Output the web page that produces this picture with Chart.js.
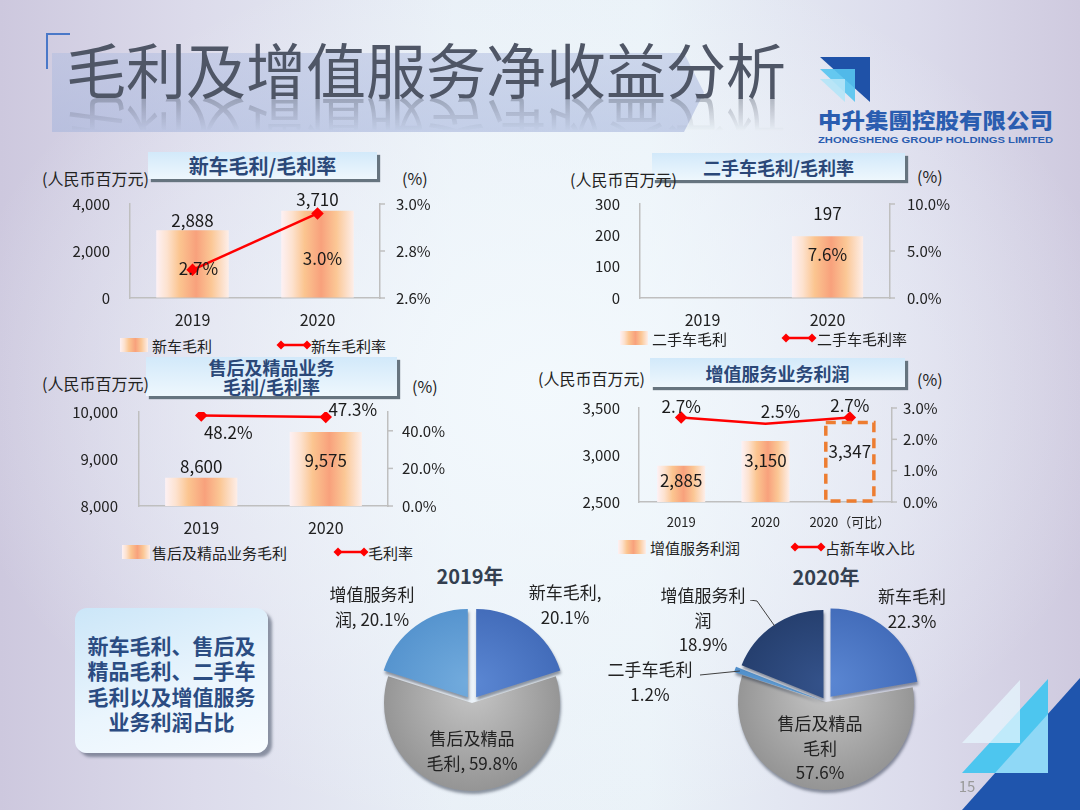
<!DOCTYPE html>
<html lang="zh-CN">
<head>
<meta charset="utf-8">
<title>毛利及增值服务净收益分析</title>
<script src="https://cdn.jsdelivr.net/npm/chart.js@4.4.1/dist/chart.umd.min.js"></script>
<style>
  body { margin: 0; }
  #slide {
    position: relative; width: 1080px; height: 810px; overflow: hidden;
    font-family: "Noto Sans CJK SC", "Noto Sans", sans-serif; color: #222;
    background:
      radial-gradient(ellipse 55% 55% at 50% 48%, rgba(243,249,253,0.95), rgba(243,249,253,0) 100%),
      linear-gradient(90deg, #cdc8de 0%, #dcdbeb 18%, #e9f0f7 42%, #eaf2f8 60%, #dcdcec 84%, #cfcadf 100%);
  }
  .abs { position: absolute; white-space: nowrap; }
  .cc { transform: translate(-50%, -50%); text-align: center; }
  .lc { transform: translateY(-50%); }
  .wrap { position: absolute; }
  .band {
    position: absolute; left: 52px; top: 53px; width: 652px; height: 79px;
    background: linear-gradient(180deg, rgba(178,190,224,0.55), rgba(168,182,220,0.6));
    clip-path: polygon(0 0, 632px 0, 652px 50%, 632px 100%, 0 100%);
  }
  .title { position: absolute; left: 66px; top: 38px; font-size: 60px; line-height: 60px; color: #4f5666; white-space: nowrap; }
  .refl {
    top: 98px; transform: scaleY(-1); opacity: 0.9;
    -webkit-mask-image: linear-gradient(to top, rgba(0,0,0,0.4) 0%, rgba(0,0,0,0) 55%);
    mask-image: linear-gradient(to top, rgba(0,0,0,0.4) 0%, rgba(0,0,0,0) 55%);
  }
  .corner { position: absolute; left: 46px; top: 33px; width: 22px; height: 34px; border-left: 2px solid #4a78c8; border-top: 2px solid #4a78c8; }
  .hb {
    position: absolute; display: flex; align-items: center; justify-content: center; text-align: center;
    background: linear-gradient(180deg, #d2e9fa, #eef7fd);
    box-shadow: 3px 3px 1px #66747f;
    font-weight: 700; color: #2b4878;
  }
  .unit { font-size: 16px; }
  .sw { position: absolute; width: 28px; height: 14px;
    background: linear-gradient(90deg, #fdf1f4 0%, #fde2cf 15%, #fbc590 32%, #f8a17c 55%, #fbc795 76%, #fdeee9 100%); }
  .lg { font-size: 15px; }
  .pl { font-size: 17px; line-height: 24.5px; }
  .pt { font-size: 20px; font-weight: 700; color: #333f50; }
  .note {
    position: absolute; left: 75px; top: 608px; width: 193px; height: 145px; border-radius: 12px;
    background: linear-gradient(160deg, #cbe6f8 0%, #eaf5fd 55%, #f8fcff 100%);
    box-shadow: 4px 4px 3px rgba(90,100,120,0.65);
    display: flex; align-items: center; justify-content: center; text-align: center;
    font-size: 21px; line-height: 25.5px; font-weight: 700; color: #2b4c82; padding-top: 6px; box-sizing: border-box;
  }
</style>
</head>
<body>
<div id="slide">
  <div class="band"></div>
  <div class="corner"></div>
  <div class="title">毛利及增值服务净收益分析</div>
  <div class="title refl">毛利及增值服务净收益分析</div>

  <svg class="abs" style="left:818px;top:55px" width="56" height="50">
    <polygon points="2,2 52,2 52,47" fill="#1f52a8"/>
    <polygon points="2,14 37,14 37,47" fill="#56c4f0" opacity="0.9"/>
    <polygon points="2,24 27,24 27,47" fill="#b4e4f7" opacity="0.9"/>
  </svg>
  <svg class="abs" style="left:818px;top:108px" width="240" height="40">
    <text x="0" y="20" textLength="235" lengthAdjust="spacingAndGlyphs" font-family="Noto Sans CJK SC" font-weight="900" font-size="21" fill="#2a5db0">中升集團控股有限公司</text>
    <text x="0" y="34.5" textLength="235" lengthAdjust="spacingAndGlyphs" font-family="Liberation Sans" font-weight="700" font-size="9.5" fill="#2a5db0">ZHONGSHENG GROUP HOLDINGS LIMITED</text>
  </svg>

  <!-- chart headers -->
  <div class="hb" style="left:148px;top:152px;width:229px;height:27px;font-size:20px">新车毛利/毛利率</div>
  <div class="hb" style="left:652px;top:153px;width:253px;height:27px;font-size:18px">二手车毛利/毛利率</div>
  <div class="hb" style="left:146px;top:357px;width:251px;height:39px;font-size:18px;line-height:19px">售后及精品业务<br>毛利/毛利率</div>
  <div class="hb" style="left:650px;top:358px;width:255px;height:29px;font-size:18px">增值服务业务利润</div>

  <div class="abs lc unit" style="left:42px;top:178px">(人民币百万元)</div>
  <div class="abs lc unit" style="left:570px;top:179px">(人民币百万元)</div>
  <div class="abs lc unit" style="left:42px;top:383px">(人民币百万元)</div>
  <div class="abs lc unit" style="left:538px;top:378px">(人民币百万元)</div>
  <div class="abs lc unit" style="left:402px;top:178px">(%)</div>
  <div class="abs lc unit" style="left:917px;top:176px">(%)</div>
  <div class="abs lc unit" style="left:412px;top:386px">(%)</div>
  <div class="abs lc unit" style="left:917px;top:379px">(%)</div>

  <div class="wrap" style="left:40px;top:185px;width:410px;height:145px"><canvas id="newCar"></canvas></div>
  <div class="wrap" style="left:530px;top:185px;width:430px;height:145px"><canvas id="usedCar"></canvas></div>
  <div class="wrap" style="left:40px;top:393px;width:420px;height:145px"><canvas id="afterSales"></canvas></div>
  <div class="wrap" style="left:520px;top:389px;width:440px;height:145px"><canvas id="vas"></canvas></div>

  <!-- legends -->
  <div class="sw" style="left:120px;top:338px"></div>
  <div class="abs lc lg" style="left:152px;top:345px">新车毛利</div>
  <svg class="abs lc" style="left:276px;top:345px" width="36" height="12"><line x1="5" y1="6" x2="31" y2="6" stroke="#f00" stroke-width="2.5"/><path d="M5 1.5L9.5 6 5 10.5 0.5 6Z" fill="#f00"/><path d="M31 1.5L35.5 6 31 10.5 26.5 6Z" fill="#f00"/></svg>
  <div class="abs lc lg" style="left:311px;top:345px">新车毛利率</div>

  <div class="sw" style="left:620px;top:331px"></div>
  <div class="abs lc lg" style="left:652px;top:338px">二手车毛利</div>
  <svg class="abs lc" style="left:781px;top:338px" width="36" height="12"><line x1="5" y1="6" x2="31" y2="6" stroke="#f00" stroke-width="2.5"/><path d="M5 1.5L9.5 6 5 10.5 0.5 6Z" fill="#f00"/><path d="M31 1.5L35.5 6 31 10.5 26.5 6Z" fill="#f00"/></svg>
  <div class="abs lc lg" style="left:817px;top:338px">二手车毛利率</div>

  <div class="sw" style="left:122px;top:545px"></div>
  <div class="abs lc lg" style="left:152px;top:552px">售后及精品业务毛利</div>
  <svg class="abs lc" style="left:333px;top:552px" width="36" height="12"><line x1="5" y1="6" x2="31" y2="6" stroke="#f00" stroke-width="2.5"/><path d="M5 1.5L9.5 6 5 10.5 0.5 6Z" fill="#f00"/><path d="M31 1.5L35.5 6 31 10.5 26.5 6Z" fill="#f00"/></svg>
  <div class="abs lc lg" style="left:368px;top:552px">毛利率</div>

  <div class="sw" style="left:618px;top:540px"></div>
  <div class="abs lc lg" style="left:650px;top:547px">增值服务利润</div>
  <svg class="abs lc" style="left:790px;top:547px" width="36" height="12"><line x1="5" y1="6" x2="31" y2="6" stroke="#f00" stroke-width="2.5"/><path d="M5 1.5L9.5 6 5 10.5 0.5 6Z" fill="#f00"/><path d="M31 1.5L35.5 6 31 10.5 26.5 6Z" fill="#f00"/></svg>
  <div class="abs lc lg" style="left:825px;top:547px">占新车收入比</div>

  <div class="note">新车毛利、售后及<br>精品毛利、二手车<br>毛利以及增值服务<br>业务利润占比</div>

  <div class="wrap" style="left:370px;top:601px;width:204px;height:204px"><canvas id="pie2019"></canvas></div>
  <div class="wrap" style="left:640px;top:600px;width:372px;height:204px"><canvas id="pie2020"></canvas></div>
  <div id="pieLabels"></div>

  <svg class="abs" style="left:930px;top:660px" width="150" height="150">
    <polygon points="32,150 150,18 150,150" fill="#1f55ad"/>
    <polygon points="32,113 118,19 118,113" fill="#4dc6ef"/>
    <polygon points="65,113 118,54 118,113" fill="#8fd8f6"/>
    <polygon points="32,83 90,20 90,83" fill="#e6f6fd" opacity="0.75"/>
  </svg>
  <div class="abs cc" style="left:967px;top:785px;font-size:15px;color:#9a9a9a">15</div>
</div>

<script>
// chart values
const years = ['2019', '2020'];
const newCarProfit = [2888, 3710];
const newCarMargin = [2.72, 2.96];
const usedCarProfit = [null, 197];
const usedCarMargin = [null, 7.6];
const afterSalesProfit = [8600, 9575];
const afterSalesMargin = [48.2, 47.3];
const vasYears = ['2019', '2020', '2020（可比）'];
const vasProfit = [2885, 3150, 3347];
const vasShare = [2.7, 2.5, 2.7];

// axis ticks
const newCarTicks = [0, 2000, 4000];
const newCarRateTicks = [2.6, 2.8, 3.0];
const usedCarTicks = [0, 100, 200, 300];
const usedCarRateTicks = [0, 5, 10];
const afterSalesTicks = [8000, 9000, 10000];
const afterSalesRateTicks = [0, 20, 40];
const vasTicks = [2500, 3000, 3500];
const vasRateTicks = [0, 1, 2, 3];

// profit mix pies
const mix2019Labels = ['新车毛利', '售后及精品毛利', '增值服务利润'];
const mix2019 = [20.1, 59.8, 20.1];
const mix2020Labels = ['新车毛利', '售后及精品毛利', '二手车毛利', '增值服务利润'];
const mix2020 = [22.3, 57.6, 1.2, 18.9];

Chart.defaults.font.family = '"Noto Sans CJK SC", "Noto Sans", sans-serif';
Chart.defaults.color = '#222';
Chart.defaults.animation = false;

// labels next to bars / points
const valueLabels = {
  id: 'valueLabels',
  afterDatasetsDraw(chart) {
    const c = chart.ctx;
    chart.data.datasets.forEach((ds, di) => {
      if (!ds.labelOffsets) return;
      chart.getDatasetMeta(di).data.forEach((el, i) => {
        const v = ds.data[i];
        if (v === null || v === undefined) return;
        const [dx, dy] = ds.labelOffsets[i];
        c.save();
        c.font = '17px "Noto Sans CJK SC"';
        c.fillStyle = '#1a1a1a';
        c.textAlign = 'center';
        c.textBaseline = 'middle';
        c.fillText(ds.fmt(v), el.x + dx, el.y + dy);
        c.restore();
      });
    });
  }
};

// dashed outline for the comparable bar
const dashedBar = {
  id: 'dashedBar',
  afterDatasetsDraw(chart, args, opts) {
    if (!opts.indices || !opts.indices.length) return;
    const c = chart.ctx;
    opts.indices.forEach(i => {
      const el = chart.getDatasetMeta(0).data[i];
      const {x, y, width} = el.getProps(['x', 'y', 'width'], true);
      const bottom = chart.chartArea.bottom - 1;
      c.save();
      c.setLineDash([10, 6]);
      c.lineWidth = 3.5;
      c.strokeStyle = '#ED7D31';
      c.strokeRect(x - width / 2, y, width, bottom - y);
      c.restore();
    });
  }
};

// short outward tick marks on the right axis
const rightTicks = {
  id: 'rightTicks',
  afterDraw(chart) {
    const s = chart.scales.y1;
    const c = chart.ctx;
    c.save();
    c.strokeStyle = '#bfbfbf';
    c.lineWidth = 1.5;
    s.ticks.forEach(t => {
      const y = s.getPixelForValue(t.value);
      c.beginPath();
      c.moveTo(s.left, y);
      c.lineTo(s.left + 5, y);
      c.stroke();
    });
    c.restore();
  }
};

function barFill(pct, hollow) {
  return (ctx) => {
    if (hollow.includes(ctx.dataIndex)) return 'rgba(0,0,0,0)';
    const chart = ctx.chart;
    const area = chart.chartArea;
    if (!area) return '#f8a27c';
    const cx = chart.scales.x.getPixelForValue(ctx.dataIndex);
    const w = area.width / chart.data.labels.length * pct;
    const g = chart.ctx.createLinearGradient(cx - w / 2, 0, cx + w / 2, 0);
    g.addColorStop(0, '#fdf1f4');
    g.addColorStop(0.15, '#fde2cf');
    g.addColorStop(0.32, '#fbc590');
    g.addColorStop(0.55, '#f8a17c');
    g.addColorStop(0.76, '#fbc795');
    g.addColorStop(1, '#fdeee9');
    return g;
  };
}

function comboChart(id, o) {
  const hollow = o.hollow || [];
  return new Chart(document.getElementById(id), {
    type: 'bar',
    data: {
      labels: o.labels,
      datasets: [
        {
          type: 'bar', data: o.bars, yAxisID: 'y', order: 2,
          categoryPercentage: 1, barPercentage: o.pct,
          backgroundColor: barFill(o.pct, hollow), borderWidth: 0,
          labelOffsets: o.barLabels, fmt: v => v.toLocaleString('en-US')
        },
        {
          type: 'line', data: o.line, yAxisID: 'y1', order: 1,
          borderColor: '#ff0000', borderWidth: 2.5, tension: 0,
          pointStyle: 'rectRot', pointRadius: o.pointRadius ?? 4.5,
          pointBackgroundColor: '#ff0000', pointBorderColor: '#ff0000',
          labelOffsets: o.lineLabels, fmt: v => v.toFixed(1) + '%'
        }
      ]
    },
    options: {
      responsive: true, maintainAspectRatio: false, animation: false,
      layout: { padding: { top: 19, left: 0, right: 0, bottom: 0 } },
      plugins: { legend: { display: false }, tooltip: { enabled: false }, dashedBar: { indices: hollow } },
      scales: {
        x: {
          grid: { display: false, drawTicks: false },
          border: { display: true, color: '#bfbfbf', width: 1.5 },
          ticks: { font: { size: o.catSize || 16 }, padding: o.catPad || 12, color: '#222', maxRotation: 0, autoSkip: false },
          afterFit: s => { s.height = 32; }
        },
        y: {
          position: 'left', min: o.yTicks[0], max: o.yTicks[o.yTicks.length - 1],
          grid: { drawOnChartArea: false, drawTicks: true, tickLength: o.yGap || 20, tickColor: 'rgba(0,0,0,0)' },
          border: { display: true, color: '#bfbfbf', width: 1.5 },
          ticks: { padding: 0, font: { size: 15 }, color: '#222', callback: v => v.toLocaleString('en-US') },
          afterBuildTicks: s => { s.ticks = o.yTicks.map(v => ({ value: v })); },
          afterFit: s => { s.width = o.yW; }
        },
        y1: {
          position: 'right', min: o.rMin, max: o.rMax,
          grid: { drawOnChartArea: false, drawTicks: true, tickLength: o.rGap, tickColor: 'rgba(0,0,0,0)' },
          border: { display: true, color: '#bfbfbf', width: 1.5 },
          ticks: { padding: 0, font: { size: 15 }, color: '#222', callback: v => v.toFixed(1) + '%' },
          afterBuildTicks: s => { s.ticks = o.rTicks.map(v => ({ value: v })); },
          afterFit: s => { s.width = o.rW; }
        }
      }
    },
    plugins: [valueLabels, dashedBar, rightTicks]
  });
}

comboChart('newCar', {
  labels: years, bars: newCarProfit, line: newCarMargin, pct: 0.58,
  yTicks: newCarTicks, rTicks: newCarRateTicks, rMin: 2.6, rMax: 3.0, yW: 90, rW: 70, rGap: 16,
  barLabels: [[0, -10], [0, -11]], lineLabels: [[6, -1], [5, 45]]
});

comboChart('usedCar', {
  labels: years, bars: usedCarProfit, line: usedCarMargin, pct: 0.57, pointRadius: 0,
  yTicks: usedCarTicks, rTicks: usedCarRateTicks, rMin: 0, rMax: 10, yW: 110, rW: 70, rGap: 17,
  barLabels: [[0, 0], [0, -23]], lineLabels: [[0, 0], [0, 28]]
});

comboChart('afterSales', {
  labels: years, bars: afterSalesProfit, line: afterSalesMargin, pct: 0.58,
  yTicks: afterSalesTicks, rTicks: afterSalesRateTicks, rMin: 0, rMax: 50, yW: 99, rW: 72, rGap: 14, yGap: 21,
  barLabels: [[0, -11], [0, 29]], lineLabels: [[27, 17], [27, -8]]
});

comboChart('vas', {
  labels: vasYears, bars: vasProfit, line: vasShare, pct: 0.57, pointRadius: [4.5, 0, 4.5],
  yTicks: vasTicks, rTicks: vasRateTicks, rMin: 0, rMax: 3, yW: 119, rW: 68, rGap: 11, yGap: 19,
  catSize: 13, catPad: 12, hollow: [2],
  barLabels: [[0, 15], [0, 20], [0, 29]], lineLabels: [[0, -11], [15, -12], [0, -12]]
});

// pies
const pieShadow = {
  id: 'pieShadow',
  beforeDatasetsDraw(chart) {
    const c = chart.ctx;
    c.save();
    c.shadowColor = 'rgba(20,30,50,0.45)';
    c.shadowBlur = 3;
    c.shadowOffsetX = 1;
    c.shadowOffsetY = 3;
  },
  afterDatasetsDraw(chart) { chart.ctx.restore(); }
};

const leaderLines = {
  id: 'leaderLines',
  afterDatasetsDraw(chart, args, opts) {
    if (!opts.lines) return;
    const c = chart.ctx;
    const meta = chart.getDatasetMeta(0);
    opts.lines.forEach(l => {
      const el = meta.data[l.index];
      const {x, y, startAngle, endAngle, outerRadius} = el.getProps(['x', 'y', 'startAngle', 'endAngle', 'outerRadius'], true);
      const mid = (startAngle + endAngle) / 2;
      const r = outerRadius + (el.options.offset || 0) / 4 - 1;
      c.save();
      c.strokeStyle = '#404040';
      c.lineWidth = 1;
      c.beginPath();
      c.moveTo(l.path[0][0], l.path[0][1]);
      l.path.slice(1).forEach(p => c.lineTo(p[0], p[1]));
      c.lineTo(x + Math.cos(mid) * r, y + Math.sin(mid) * r);
      c.stroke();
      c.restore();
    });
  }
};

function radial(colors) {
  return (ctx) => {
    const [inner, outer] = colors[ctx.dataIndex];
    const a = ctx.chart.chartArea;
    if (!a) return outer;
    const cx = (a.left + a.right) / 2, cy = (a.top + a.bottom) / 2;
    const r = Math.min(a.width, a.height) / 2;
    const g = ctx.chart.ctx.createRadialGradient(cx, cy - r * 0.15, 0, cx, cy, r);
    g.addColorStop(0, inner);
    g.addColorStop(1, outer);
    return g;
  };
}

function pieChart(id, labels, values, colors, offsets, lines) {
  return new Chart(document.getElementById(id), {
    type: 'pie',
    data: { labels, datasets: [{ data: values, backgroundColor: radial(colors), borderWidth: 0, offset: offsets }] },
    options: {
      responsive: true, maintainAspectRatio: false, animation: false,
      layout: { padding: 0 },
      plugins: { legend: { display: false }, tooltip: { enabled: false }, leaderLines: { lines } }
    },
    plugins: [pieShadow, leaderLines]
  });
}

pieChart('pie2019', mix2019Labels, mix2019,
  [['#5a86d2', '#3f68b6'], ['#c6c6c6', '#8e8e8e'], ['#72abdd', '#5190cc']],
  [28, 0, 28], null);

pieChart('pie2020', mix2020Labels, mix2020,
  [['#5a86d2', '#3f68b6'], ['#c6c6c6', '#8e8e8e'], ['#6aa6dc', '#4d8cc8'], ['#34528a', '#233c6a']],
  [28, 0, 18, 18],
  [{ index: 3, path: [[110, 0], [117, 1]] }, { index: 2, path: [[60, 75]] }]);

// pie text
const pieText = [
  ['2019年', 470, 575, 'pt'],
  [mix2019Labels[0] + ',<br>' + mix2019[0] + '%', 565, 604, 'pl'],
  ['增值服务利<br>润, ' + mix2019[2] + '%', 372, 606, 'pl'],
  ['售后及精品<br>毛利, ' + mix2019[1] + '%', 472, 750, 'pl'],
  ['2020年', 826, 576, 'pt'],
  [mix2020Labels[0] + '<br>' + mix2020[0] + '%', 912, 608, 'pl'],
  ['增值服务利<br>润<br>' + mix2020[3] + '%', 703, 620, 'pl'],
  [mix2020Labels[2] + '<br>' + mix2020[2] + '%', 650, 681, 'pl'],
  ['售后及精品<br>毛利<br>' + mix2020[1] + '%', 820, 748, 'pl']
];
const holder = document.getElementById('pieLabels');
pieText.forEach(([html, x, y, cls]) => {
  const d = document.createElement('div');
  d.className = 'abs cc ' + cls;
  d.style.left = x + 'px';
  d.style.top = y + 'px';
  d.innerHTML = html;
  holder.appendChild(d);
});
</script>
</body>
</html>
